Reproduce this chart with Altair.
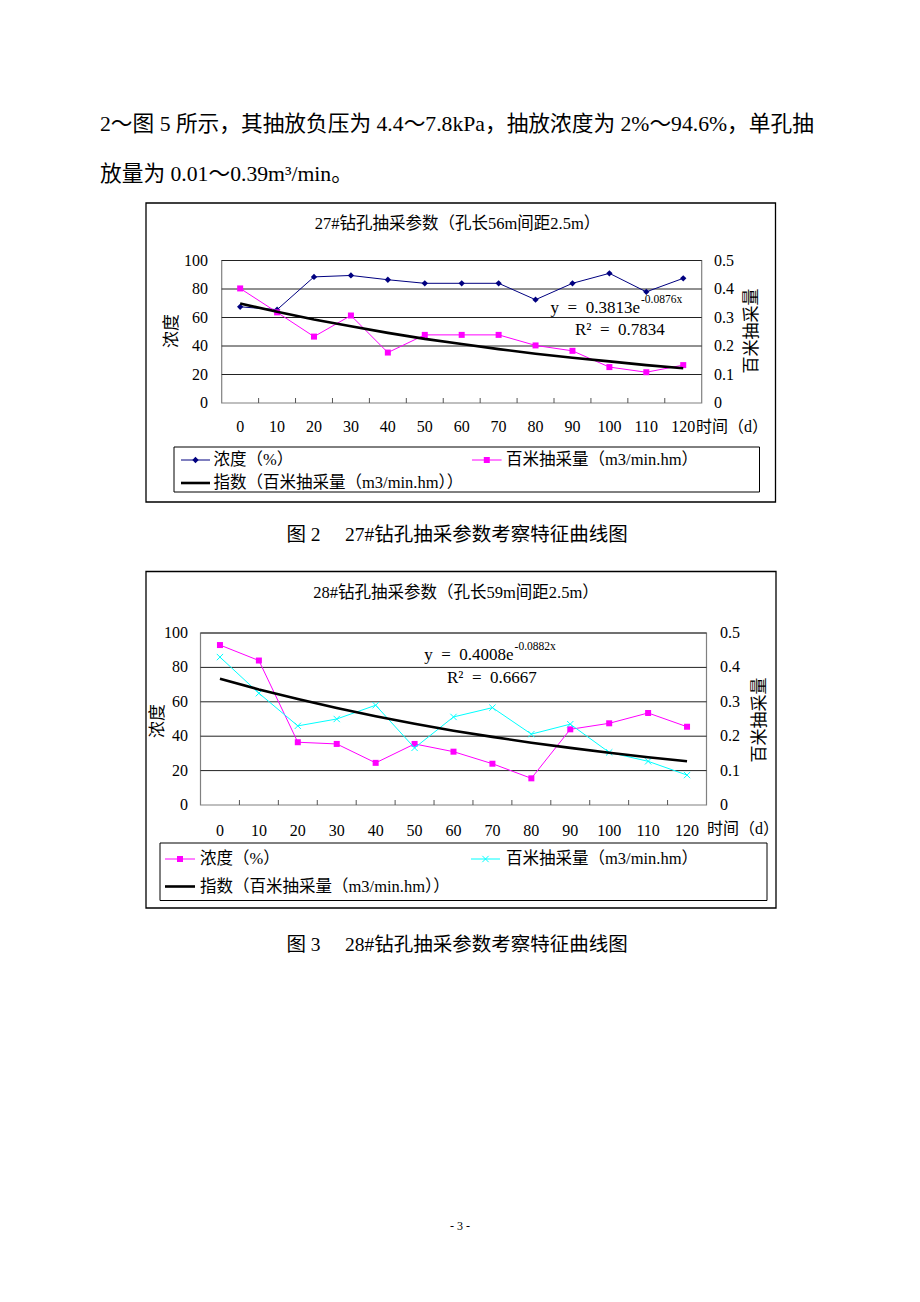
import altair as alt
import pandas as pd

# ---------------- data ----------------
days = [0, 10, 20, 30, 40, 50, 60, 70, 80, 90, 100, 110, 120]
day_labels = [str(d) for d in days]
band_edges = [5, 15, 25, 35, 45, 55, 65, 75, 85, 95, 105, 115]

# Figure 2 (27# borehole)
c1_conc = [67.5, 65.5, 88.5, 89.5, 86.5, 84, 84, 84, 72.5, 84, 91, 78, 87.5]
c1_flow = [0.402, 0.318, 0.233, 0.307, 0.177, 0.239, 0.239, 0.239, 0.202, 0.183, 0.126, 0.108, 0.133]
c1_trend = [0.349, 0.320, 0.293, 0.269, 0.246, 0.225, 0.207, 0.189, 0.173, 0.159, 0.146, 0.133, 0.122]

# Figure 3 (28# borehole)
c2_conc = [93, 84, 36.5, 35.5, 24.5, 35.5, 31, 24, 15.5, 44, 47.5, 53.5, 45.5]
c2_flow = [0.430, 0.325, 0.230, 0.250, 0.290, 0.166, 0.256, 0.283, 0.206, 0.235, 0.153, 0.127, 0.087]
c2_trend = [0.367, 0.336, 0.308, 0.282, 0.258, 0.236, 0.216, 0.198, 0.181, 0.166, 0.152, 0.139, 0.127]

left_ticks = [0, 20, 40, 60, 80, 100]
grid_vals = [20, 40, 60, 80, 100]
right_ticks = [0, 0.1, 0.2, 0.3, 0.4, 0.5]
right_tick_labels = ["0", "0.1", "0.2", "0.3", "0.4", "0.5"]

EN = "\u2002"
body_line1 = "2～图 5 所示，其抽放负压为 4.4～7.8kPa，抽放浓度为 2%～94.6%，单孔抽"
body_line2 = "放量为 0.01～0.39m³/min。"
caption1 = "图 2\u3000\u00a027#钻孔抽采参数考察特征曲线图"
caption2 = "图 3\u3000\u00a028#钻孔抽采参数考察特征曲线图"
title1 = "27#钻孔抽采参数（孔长56m间距2.5m）"
title2 = "28#钻孔抽采参数（孔长59m间距2.5m）"
eq1_main, eq1_sup, r2_1 = f"y{EN}={EN}0.3813e", "-0.0876x", f"R²{EN}={EN}0.7834"
eq2_main, eq2_sup, r2_2 = f"y{EN}={EN}0.4008e", "-0.0882x", f"R²{EN}={EN}0.6667"
leg_conc = "浓度（%）"
leg_flow = "百米抽采量（m3/min.hm）"
leg_trend = "指数（百米抽采量（m3/min.hm））"
ytitle_left = "浓度"
ytitle_right = "百米抽采量"
xtitle = "时间（d）"
page_no = "- 3 -"

FONT = "Liberation Serif, Noto Sans CJK SC"
ONE = pd.DataFrame({"k": [0]})


def txt(s, x, y, size, align="left", angle=0, color="black"):
    kw = dict(font=FONT, fontSize=size, align=align, baseline="middle", color=color)
    if angle:
        kw["angle"] = angle
    return alt.Chart(pd.DataFrame({"t": [s]})).mark_text(**kw).encode(
        x=alt.value(x), y=alt.value(y), text="t:N")


def box(x0, x1, y0, y1, stroke="black", sw=1.0):
    return alt.Chart(ONE).mark_rect(fill="white", stroke=stroke, strokeWidth=sw).encode(
        x=alt.value(x0), x2=alt.value(x1), y=alt.value(y0), y2=alt.value(y1))


def hline(x0, x1, y, color, sw):
    return alt.Chart(ONE).mark_rule(color=color, strokeWidth=sw).encode(
        x=alt.value(x0), x2=alt.value(x1), y=alt.value(y))


def sym(x, y, shape, color, size, filled=True):
    return alt.Chart(ONE).mark_point(shape=shape, color=color, size=size, filled=filled,
                                     opacity=1, strokeWidth=1).encode(
        x=alt.value(x), y=alt.value(y))


def panel(P, conc, flow, trend, conc_style, flow_style):
    xr, yr = P["xr"], P["yr"]
    xs = alt.Scale(domain=[-5, 125], range=xr, nice=False, zero=False)
    ysL = alt.Scale(domain=[0, 100], range=yr, nice=False, zero=False)
    ysR = alt.Scale(domain=[0, 0.5], range=yr, nice=False, zero=False)
    df = pd.DataFrame({"day": days, "conc": conc, "flow": flow, "trend": trend})
    X = alt.X("day:Q", scale=xs, axis=None)
    L = []
    L.append(box(*P["box"], stroke="black", sw=1.3))
    L.append(txt(P["title"], P["title_xy"][0], P["title_xy"][1], 16.5, align="center"))
    # plot frame
    L.append(alt.Chart(ONE).mark_rect(fill="white", stroke="#808080", strokeWidth=1.2).encode(
        x=alt.value(xr[0]), x2=alt.value(xr[1]), y=alt.value(yr[1]), y2=alt.value(yr[0])))
    # gridlines
    L.append(alt.Chart(pd.DataFrame({"v": grid_vals})).mark_rule(color="#222222", strokeWidth=1).encode(
        y=alt.Y("v:Q", scale=ysL, axis=None), x=alt.value(xr[0]), x2=alt.value(xr[1])))
    # bottom ticks
    L.append(alt.Chart(pd.DataFrame({"d": band_edges})).mark_rule(color="#555555", strokeWidth=1).encode(
        x=alt.X("d:Q", scale=xs, axis=None), y=alt.value(yr[0]), y2=alt.value(yr[0] - 5)))
    # axis labels
    L.append(alt.Chart(pd.DataFrame({"v": left_ticks, "t": [str(v) for v in left_ticks]})).mark_text(
        font=FONT, fontSize=16, align="right", baseline="middle", color="black").encode(
        y=alt.Y("v:Q", scale=ysL, axis=None), x=alt.value(P["lab_left_x"]), text="t:N"))
    L.append(alt.Chart(pd.DataFrame({"v": right_ticks, "t": right_tick_labels})).mark_text(
        font=FONT, fontSize=16, align="left", baseline="middle", color="black").encode(
        y=alt.Y("v:Q", scale=ysR, axis=None), x=alt.value(P["lab_right_x"]), text="t:N"))
    L.append(alt.Chart(pd.DataFrame({"day": days, "t": day_labels})).mark_text(
        font=FONT, fontSize=16, align="center", baseline="middle", color="black").encode(
        x=X, y=alt.value(P["xlab_y"]), text="t:N"))
    L.append(txt(xtitle, P["xtitle_xy"][0], P["xtitle_xy"][1], 16))
    L.append(txt(ytitle_left, P["ytl_xy"][0], P["ytl_xy"][1], 17, align="center", angle=270))
    L.append(txt(ytitle_right, P["ytr_xy"][0], P["ytr_xy"][1], 17, align="center", angle=270))
    # series
    cc, cshape, csize, cfill = conc_style
    fc, fshape, fsize, ffill = flow_style
    base = alt.Chart(df)
    L.append(base.mark_line(color=cc, strokeWidth=1).encode(x=X, y=alt.Y("conc:Q", scale=ysL, axis=None)))
    L.append(base.mark_point(shape=cshape, color=cc, size=csize, filled=cfill, opacity=1, strokeWidth=1).encode(
        x=X, y=alt.Y("conc:Q", scale=ysL, axis=None)))
    L.append(base.mark_line(color=fc, strokeWidth=1).encode(x=X, y=alt.Y("flow:Q", scale=ysR, axis=None)))
    L.append(base.mark_point(shape=fshape, color=fc, size=fsize, filled=ffill, opacity=1, strokeWidth=1).encode(
        x=X, y=alt.Y("flow:Q", scale=ysR, axis=None)))
    L.append(base.mark_line(color="black", strokeWidth=2.6).encode(x=X, y=alt.Y("trend:Q", scale=ysR, axis=None)))
    # equation
    ex, ey = P["eq_xy"]
    L.append(txt(P["eq"][0], ex, ey, 17, align="right"))
    L.append(txt(P["eq"][1], ex + 1, ey - 8, 11.5))
    L.append(txt(P["eq"][2], P["r2_xy"][0], P["r2_xy"][1], 17))
    # legend
    L.append(box(*P["leg_box"], stroke="black", sw=1.0))
    r1, r2 = P["leg_rows"]
    a0, a1, at = P["leg_a"]
    b0, b1, bt = P["leg_b"]
    L.append(hline(a0, a1, r1, cc, 1))
    L.append(sym((a0 + a1) / 2, r1, cshape, cc, csize, cfill))
    L.append(txt(leg_conc, at, r1, 16.5))
    L.append(hline(b0, b1, r1, fc, 1))
    L.append(sym((b0 + b1) / 2, r1, fshape, fc, fsize, ffill))
    L.append(txt(leg_flow, bt, r1, 16.5))
    L.append(hline(a0, a1, r2, "black", 2.6))
    L.append(txt(leg_trend, at, r2, 16.5))
    return L


P1 = dict(
    xr=[213.7, 693.7], yr=[395, 252.5],
    box=(138, 767.5, 195, 494),
    title=title1, title_xy=(449.5, 215.5),
    lab_left_x=200, lab_right_x=706, xlab_y=419,
    xtitle_xy=(688, 419), ytl_xy=(164, 323), ytr_xy=(744, 323),
    eq=(eq1_main, eq1_sup, r2_1), eq_xy=(632, 300), r2_xy=(567, 322),
    leg_box=(166, 751.5, 439, 484), leg_rows=(452, 475),
    leg_a=(173, 202, 205.5), leg_b=(464, 493.6, 498),
)
P2 = dict(
    xr=[192.5, 698.5], yr=[797, 625],
    box=(138, 768, 563.5, 900),
    title=title2, title_xy=(448, 585),
    lab_left_x=180, lab_right_x=712, xlab_y=823,
    xtitle_xy=(699, 821), ytl_xy=(150, 713), ytr_xy=(752, 712),
    eq=(eq2_main, eq2_sup, r2_2), eq_xy=(505.6, 647), r2_xy=(439, 670),
    leg_box=(152, 759, 835, 892.5), leg_rows=(851, 878.5),
    leg_a=(157, 187, 192), leg_b=(463, 492, 498),
)

XSHAPE = "M-1,-1L1,1M1,-1L-1,1"

layers = []
layers.append(txt(body_line1, 92, 116, 21.7))
layers.append(txt(body_line2, 92, 166, 21.7))
layers += panel(P1, c1_conc, c1_flow, c1_trend,
                ("#000080", "diamond", 40, True), ("#FF00FF", "square", 36, True))
layers.append(txt(caption1, 449, 527, 19.5, align="center"))
layers += panel(P2, c2_conc, c2_flow, c2_trend,
                ("#FF00FF", "square", 36, True), ("#00FFFF", XSHAPE, 40, False))
layers.append(txt(caption2, 449, 937, 19.5, align="center"))
layers.append(txt(page_no, 452, 1218, 12, align="center"))

chart = alt.layer(*layers).resolve_scale(x="independent", y="independent").properties(
    width=904, height=1286, padding=0, autosize="none", background="white"
).configure_view(stroke=None)

chart.save("out.html", embed_options={"renderer": "svg", "actions": False})
